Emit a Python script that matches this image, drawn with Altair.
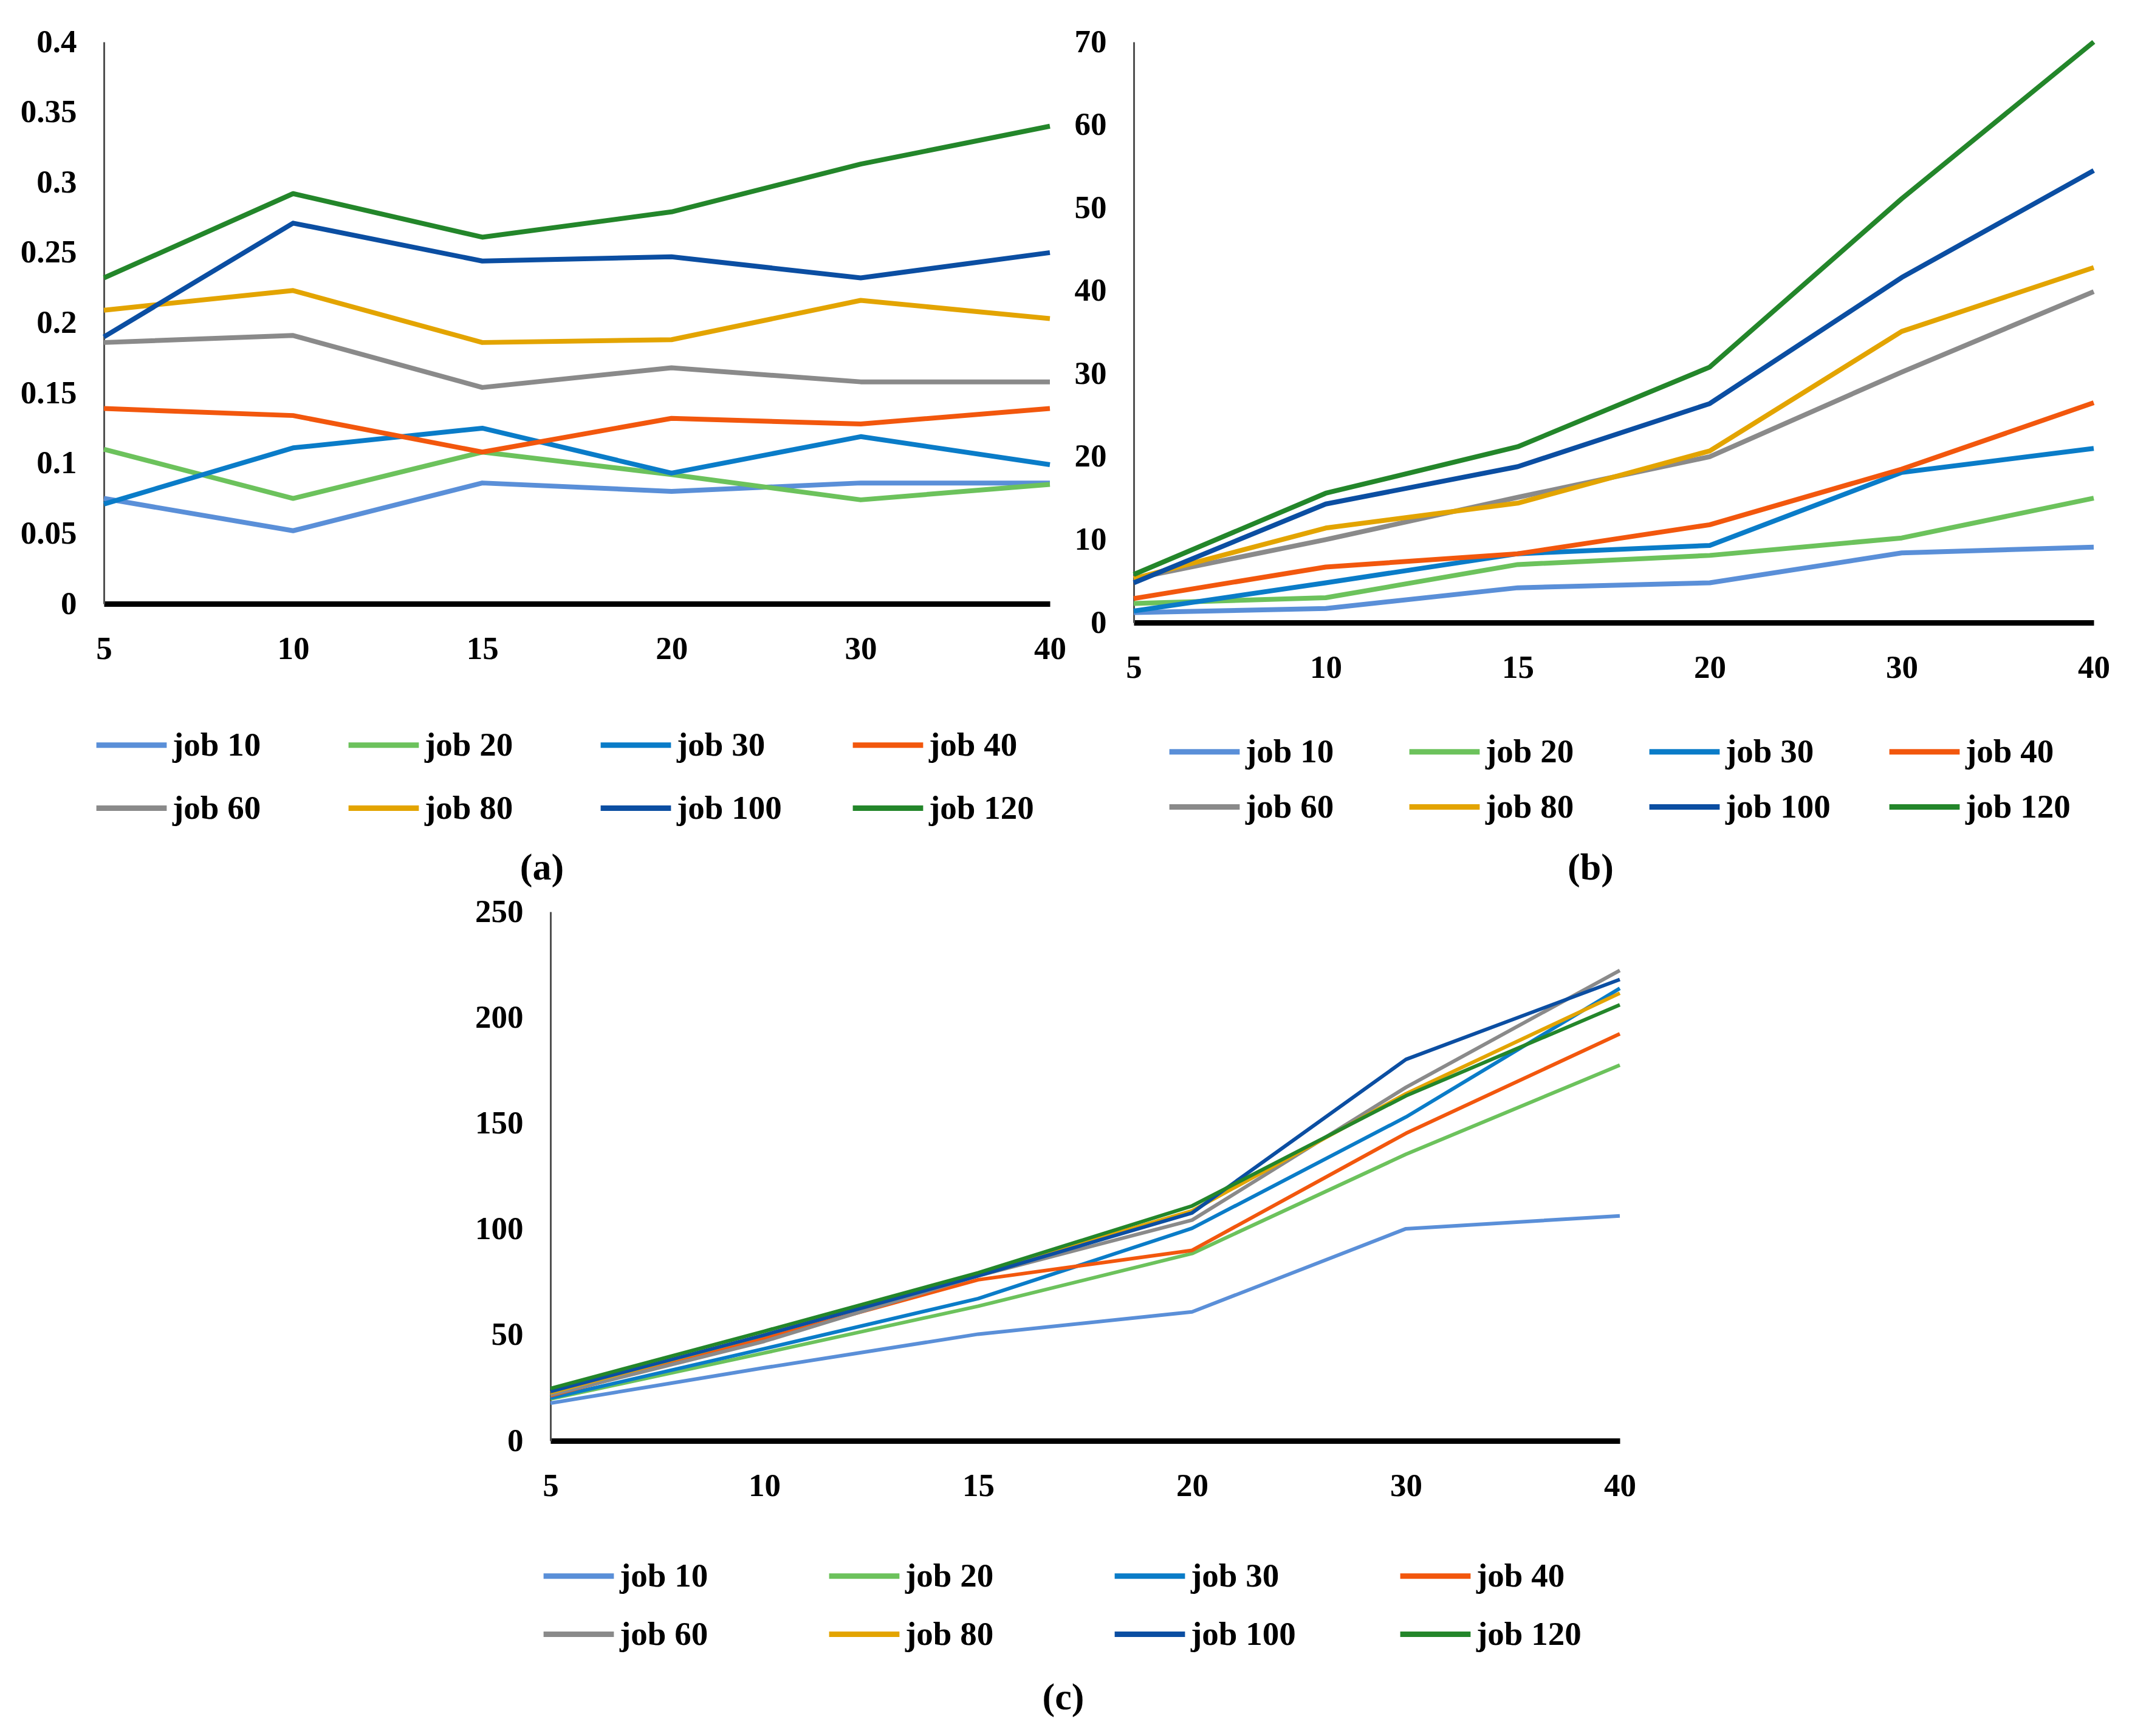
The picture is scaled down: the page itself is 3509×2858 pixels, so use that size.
import altair as alt
import pandas as pd

X_CATS = ["5", "10", "15", "20", "30", "40"]
JOBS = ["job 10", "job 20", "job 30", "job 40", "job 60", "job 80", "job 100", "job 120"]
COLORS = ["#5A8FD8", "#6CC25C", "#0A7CC8", "#F2570D", "#8A8A8A", "#E3A400", "#0B4EA2", "#23862A"]

# panel (a)
A_JOB10 = [0.075, 0.052, 0.086, 0.080, 0.086, 0.086]
A_JOB20 = [0.110, 0.075, 0.108, 0.092, 0.074, 0.085]
A_JOB30 = [0.071, 0.111, 0.125, 0.093, 0.119, 0.099]
A_JOB40 = [0.139, 0.134, 0.108, 0.132, 0.128, 0.139]
A_JOB60 = [0.186, 0.191, 0.154, 0.168, 0.158, 0.158]
A_JOB80 = [0.209, 0.223, 0.186, 0.188, 0.216, 0.203]
A_JOB100 = [0.190, 0.271, 0.244, 0.247, 0.232, 0.250]
A_JOB120 = [0.232, 0.292, 0.261, 0.279, 0.313, 0.340]

# panel (b)
B_JOB10 = [1.2, 1.7, 4.2, 4.8, 8.4, 9.1]
B_JOB20 = [2.3, 3.0, 7.0, 8.1, 10.2, 15.0]
B_JOB30 = [1.4, 4.8, 8.3, 9.3, 18.1, 21.0]
B_JOB40 = [2.9, 6.7, 8.3, 11.8, 18.5, 26.5]
B_JOB60 = [5.3, 10.0, 15.1, 20.0, 30.2, 39.9]
B_JOB80 = [5.3, 11.4, 14.4, 20.7, 35.1, 42.8]
B_JOB100 = [4.8, 14.3, 18.8, 26.4, 41.6, 54.5]
B_JOB120 = [5.8, 15.6, 21.2, 30.8, 51.1, 70.0]

# panel (c)
C_JOB10 = [17.8, 34.5, 50.4, 60.9, 100.2, 106.3]
C_JOB20 = [19.8, 41.5, 63.6, 88.5, 135.4, 177.5]
C_JOB30 = [20.2, 43.5, 67.2, 100.4, 153.0, 213.8]
C_JOB40 = [21.3, 48.4, 76.1, 90.0, 145.3, 192.3]
C_JOB60 = [21.7, 47.0, 78.0, 104.3, 167.0, 222.3]
C_JOB80 = [22.7, 50.0, 79.0, 108.7, 164.0, 211.5]
C_JOB100 = [23.3, 50.0, 78.0, 107.7, 180.2, 218.0]
C_JOB120 = [24.7, 51.8, 79.4, 111.0, 163.0, 206.0]

A_TICKS = [0, 0.05, 0.1, 0.15, 0.2, 0.25, 0.3, 0.35, 0.4]
B_TICKS = [0, 10, 20, 30, 40, 50, 60, 70]
C_TICKS = [0, 50, 100, 150, 200, 250]

FONT = "Liberation Serif"


def make_df(series):
    rows = []
    for job, vals in zip(JOBS, series):
        for x, v in zip(X_CATS, vals):
            rows.append({"n": x, "job": job, "v": v})
    return pd.DataFrame(rows)


def panel(series, ticks, w, h, lw, legx, legy, colpad, rowpad, cap, capx, capy,
          xrange=None, yoffset=0):
    df = make_df(series)
    xscale = alt.Scale(type="point", padding=0, range=xrange) if xrange else \
        alt.Scale(type="point", padding=0)
    lines = alt.Chart(df).mark_line(strokeWidth=lw, strokeJoin="round").encode(
        x=alt.X("n:O", sort=X_CATS, scale=xscale,
                axis=alt.Axis(title=None, labelAngle=0, ticks=False, grid=False,
                              domainColor="#000000", domainWidth=9,
                              labelFont=FONT, labelFontWeight="bold", labelFontSize=53,
                              labelColor="#000000", labelPadding=48)),
        y=alt.Y("v:Q", scale=alt.Scale(domain=[ticks[0], ticks[-1]], nice=False),
                axis=alt.Axis(title=None, values=ticks, format=".2~f", ticks=False, grid=False,
                              domainColor="#505050", domainWidth=3, offset=yoffset,
                              labelFont=FONT, labelFontWeight="bold", labelFontSize=53,
                              labelColor="#000000", labelPadding=45)),
        color=alt.Color("job:N", sort=JOBS,
                        scale=alt.Scale(domain=JOBS, range=COLORS),
                        legend=alt.Legend(title=None, orient="none", legendX=legx, legendY=legy,
                                          columns=4, direction="horizontal", gridAlign="all",
                                          columnPadding=colpad, rowPadding=rowpad, padding=0,
                                          symbolType="stroke", symbolSize=13400,
                                          symbolStrokeWidth=9, labelOffset=5,
                                          labelFont=FONT, labelFontWeight="bold",
                                          labelFontSize=55, labelColor="#000000",
                                          labelLimit=0)),
    )
    caption = alt.Chart(pd.DataFrame({"t": [cap]})).mark_text(
        font=FONT, fontSize=62, fontWeight="bold", color="#000000",
        align="center", baseline="middle"
    ).encode(x=alt.value(capx), y=alt.value(capy), text="t:N")
    return alt.layer(lines, caption).properties(width=w, height=h)


C_SHIFT = 735  # horizontal offset of panel (c) inside its grid cell

pa = panel([A_JOB10, A_JOB20, A_JOB30, A_JOB40, A_JOB60, A_JOB80, A_JOB100, A_JOB120],
           A_TICKS, 1557, 925, 8, -17, 1095, 98, 13, "(a)", 721, 1360)
pb = panel([B_JOB10, B_JOB20, B_JOB30, B_JOB40, B_JOB60, B_JOB80, B_JOB100, B_JOB120],
           B_TICKS, 1580, 956, 8, 54, 1106, 78, 0, "(b)", 752, 1360)
pc = panel([C_JOB10, C_JOB20, C_JOB30, C_JOB40, C_JOB60, C_JOB80, C_JOB100, C_JOB120],
           C_TICKS, 1557, 871, 6, C_SHIFT - 16, 1031, 153, 5, "(c)", C_SHIFT + 844, 1294,
           xrange=[C_SHIFT, C_SHIFT + 1760], yoffset=-C_SHIFT)

chart = alt.concat(pa, pb, pc, columns=2, spacing={"row": 476, "column": 138},
                   bounds="flush").resolve_scale(color="independent").resolve_legend(
    color="independent").properties(
    padding={"left": 25, "top": 35, "right": 20, "bottom": 20},
    background="#ffffff",
).configure_view(stroke=None)

chart.save("out.html", embed_options={"renderer": "svg", "actions": False})
